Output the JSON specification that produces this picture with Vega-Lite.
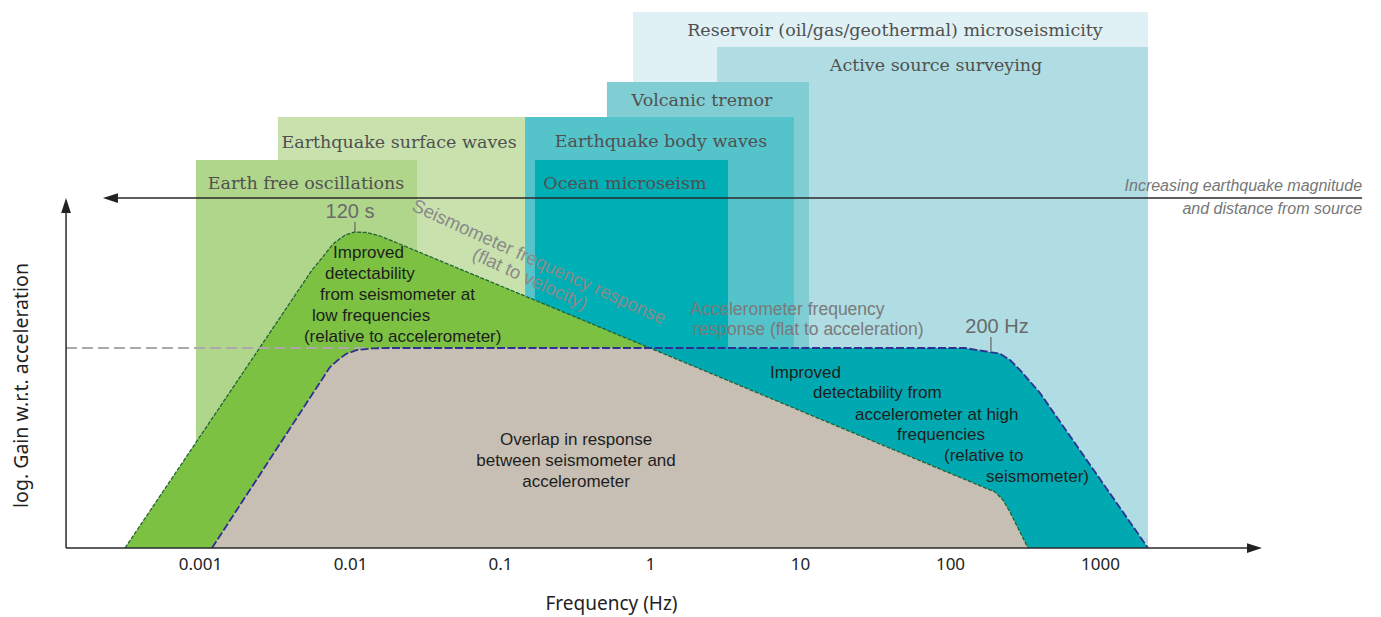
{
  "$schema": "https://vega.github.io/schema/vega-lite/v6.json",
  "width": 1299,
  "height": 548,
  "autosize": {"type": "none"},
  "padding": {"left": 66, "top": 0, "right": 16, "bottom": 69},
  "background": "white",
  "config": {
    "view": {"stroke": null},
    "axisX": {"domain": false, "ticks": false, "grid": false, "labelFont": "Noto Sans", "labelFontSize": 17, "labelColor": "#222", "labelPadding": 8, "titleFont": "Noto Sans", "titleFontSize": 19, "titleFontWeight": "normal", "titleColor": "#222", "titleX": 545, "titleY": 55, "titleBaseline": "middle"},
    "axisY": {"domain": false, "ticks": false, "grid": false, "labels": false, "titleFont": "Noto Sans", "titleFontSize": 19.5, "titleFontWeight": "normal", "titleColor": "#222", "titleX": -45, "titleY": 385, "titleAngle": 270, "titleAlign": "center", "titleBaseline": "middle"}
  },
  "datasets": {
    "bands": [
      {"band": "Reservoir (oil/gas/geothermal) microseismicity", "f": -0.113, "f2": 3.32, "g": 2.68, "lf": 1.633, "lg": 2.585},
      {"band": "Active source surveying", "f": 0.447, "f2": 3.32, "g": 2.505, "lf": 1.907, "lg": 2.41},
      {"band": "Volcanic tremor", "f": -0.287, "f2": 1.06, "g": 2.33, "lf": 0.347, "lg": 2.235},
      {"band": "Earthquake surface waves", "f": -2.48, "f2": -0.833, "g": 2.155, "lf": -1.673, "lg": 2.025},
      {"band": "Earthquake body waves", "f": -0.833, "f2": 0.96, "g": 2.155, "lf": 0.073, "lg": 2.03},
      {"band": "Earth free oscillations", "f": -3.027, "f2": -1.553, "g": 1.94, "lf": -2.293, "lg": 1.82},
      {"band": "Ocean microseism", "f": -0.767, "f2": 0.52, "g": 1.94, "lf": -0.167, "lg": 1.82}
    ],
    "acc": [
      {"f": -2.92, "g": 0}, {"f": -2.133, "g": 0.905}, {"f": -2.08, "g": 0.94}, {"f": -2.027, "g": 0.97},
      {"f": -1.953, "g": 0.99}, {"f": -1.853, "g": 0.998}, {"f": -1.733, "g": 1.0}, {"f": 2.1, "g": 1.0},
      {"f": 2.22, "g": 0.985}, {"f": 2.333, "g": 0.972}, {"f": 2.4, "g": 0.94}, {"f": 2.467, "g": 0.89},
      {"f": 2.6, "g": 0.775}, {"f": 3.32, "g": 0}
    ],
    "seis": [
      {"f": -3.5, "g": 0}, {"f": -2.253, "g": 1.39}, {"f": -2.187, "g": 1.45}, {"f": -2.113, "g": 1.52},
      {"f": -2.033, "g": 1.565}, {"f": -1.967, "g": 1.58}, {"f": -1.887, "g": 1.5775}, {"f": -1.8, "g": 1.56},
      {"f": -1.653, "g": 1.515}, {"f": 0, "g": 1.0}, {"f": 2.3, "g": 0.28}, {"f": 2.353, "g": 0.24},
      {"f": 2.4, "g": 0.18}, {"f": 2.52, "g": 0}
    ],
    "overlap": [
      {"f": -2.92, "g": 0}, {"f": -2.133, "g": 0.905}, {"f": -2.08, "g": 0.94}, {"f": -2.027, "g": 0.97},
      {"f": -1.953, "g": 0.99}, {"f": -1.853, "g": 0.998}, {"f": -1.733, "g": 1.0}, {"f": 0, "g": 1.0},
      {"f": 2.3, "g": 0.28}, {"f": 2.353, "g": 0.24}, {"f": 2.4, "g": 0.18}, {"f": 2.52, "g": 0}
    ],
    "level": [{"f": -3.893, "g": 1.0}, {"f": -1.9, "g": 1.0}],
    "rules": [
      {"name": "yaxis", "f": -3.893, "f2": -3.893, "g": 0, "g2": 1.68},
      {"name": "xaxis", "f": -3.893, "f2": 3.99, "g": 0, "g2": 0},
      {"name": "magnitude", "f": -3.55, "f2": 4.747, "g": 1.75, "g2": 1.75}
    ],
    "ticks": [
      {"f": -1.967, "g": 1.58, "g2": 1.63},
      {"f": 2.273, "g": 0.985, "g2": 1.055}
    ],
    "arrows": [
      {"dir": "left", "f": -3.597, "g": 1.75},
      {"dir": "up", "f": -3.893, "g": 1.7125},
      {"dir": "right", "f": 4.03, "g": 0}
    ],
    "notes": [
      {"kind": "seislow", "text": "Improved", "f": -2.113, "g": 1.475},
      {"kind": "seislow", "text": "detectability", "f": -2.167, "g": 1.37},
      {"kind": "seislow", "text": "from seismometer at", "f": -2.2, "g": 1.265},
      {"kind": "seislow", "text": "low frequencies", "f": -2.253, "g": 1.16},
      {"kind": "seislow", "text": "(relative to accelerometer)", "f": -2.307, "g": 1.055},
      {"kind": "acchigh", "text": "Improved", "f": 0.8, "g": 0.875},
      {"kind": "acchigh", "text": "detectability from", "f": 1.087, "g": 0.775},
      {"kind": "acchigh", "text": "accelerometer at high", "f": 1.367, "g": 0.665},
      {"kind": "acchigh", "text": "frequencies", "f": 1.647, "g": 0.565},
      {"kind": "acchigh", "text": "(relative to", "f": 1.96, "g": 0.46},
      {"kind": "acchigh", "text": "seismometer)", "f": 2.24, "g": 0.355},
      {"kind": "overlap", "text": "Overlap in response", "f": -0.493, "g": 0.54},
      {"kind": "overlap", "text": "between seismometer and", "f": -0.493, "g": 0.435},
      {"kind": "overlap", "text": "accelerometer", "f": -0.493, "g": 0.33},
      {"kind": "seislabel", "text": "Seismometer frequency response", "f": -0.74, "g": 1.43},
      {"kind": "seislabel", "text": "(flat to velocity)", "f": -0.8, "g": 1.345},
      {"kind": "acclabel", "text": "Accelerometer frequency", "f": 0.267, "g": 1.19},
      {"kind": "acclabel", "text": "response (flat to acceleration)", "f": 0.287, "g": 1.09},
      {"kind": "corner", "text": "120 s", "f": -2.0, "g": 1.68},
      {"kind": "corner", "text": "200 Hz", "f": 2.313, "g": 1.105},
      {"kind": "magnitude", "text": "Increasing earthquake magnitude", "f": 4.747, "g": 1.81},
      {"kind": "magnitude", "text": "and distance from source", "f": 4.747, "g": 1.695}
    ]
  },
  "layer": [
    {
      "data": {"name": "bands"},
      "mark": {"type": "rect"},
      "encoding": {
        "x": {"field": "f", "type": "quantitative", "scale": {"domain": [-3.8933, 4.7667], "nice": false, "zero": false}, "title": "Frequency (Hz)", "axis": {"values": [-3, -2, -1, 0, 1, 2, 3], "labelExpr": "datum.value == -3 ? '0.001' : datum.value == -2 ? '0.01' : datum.value == -1 ? '0.1' : format(pow(10, datum.value), 'd')"}},
        "x2": {"field": "f2"},
        "y": {"field": "g", "type": "quantitative", "scale": {"domain": [0, 2.74], "nice": false, "zero": false}, "title": "log. Gain w.r.t. acceleration"},
        "y2": {"datum": 0},
        "color": {"field": "band", "type": "nominal", "legend": null, "scale": {
          "domain": ["Reservoir (oil/gas/geothermal) microseismicity", "Active source surveying", "Volcanic tremor", "Earthquake surface waves", "Earthquake body waves", "Earth free oscillations", "Ocean microseism"],
          "range": ["#dff1f4", "#afdde3", "#80ced4", "#c9e2ad", "#55c3ca", "#b0d68b", "#00aeb5"]}}
      }
    },
    {
      "data": {"name": "bands"},
      "mark": {"type": "text", "font": "DejaVu Serif", "fontSize": 17.5, "color": "#505050", "align": "center", "baseline": "middle"},
      "encoding": {
        "x": {"field": "lf", "type": "quantitative", "scale": {"domain": [-3.8933, 4.7667], "nice": false, "zero": false}, "title": "Frequency (Hz)"},
        "y": {"field": "lg", "type": "quantitative", "scale": {"domain": [0, 2.74], "nice": false, "zero": false}, "title": "log. Gain w.r.t. acceleration"},
        "text": {"field": "band"}
      }
    },
    {
      "data": {"name": "acc"},
      "mark": {"type": "area", "color": "#00a9b1"},
      "encoding": {
        "x": {"field": "f", "type": "quantitative", "scale": {"domain": [-3.8933, 4.7667], "nice": false, "zero": false}, "title": "Frequency (Hz)"},
        "y": {"field": "g", "type": "quantitative", "scale": {"domain": [0, 2.74], "nice": false, "zero": false}, "title": "log. Gain w.r.t. acceleration"}
      }
    },
    {
      "data": {"name": "seis"},
      "mark": {"type": "area", "color": "#7cc142"},
      "encoding": {
        "x": {"field": "f", "type": "quantitative", "scale": {"domain": [-3.8933, 4.7667], "nice": false, "zero": false}, "title": "Frequency (Hz)"},
        "y": {"field": "g", "type": "quantitative", "scale": {"domain": [0, 2.74], "nice": false, "zero": false}, "title": "log. Gain w.r.t. acceleration"}
      }
    },
    {
      "data": {"name": "overlap"},
      "mark": {"type": "area", "color": "#c7beb4"},
      "encoding": {
        "x": {"field": "f", "type": "quantitative", "scale": {"domain": [-3.8933, 4.7667], "nice": false, "zero": false}, "title": "Frequency (Hz)"},
        "y": {"field": "g", "type": "quantitative", "scale": {"domain": [0, 2.74], "nice": false, "zero": false}, "title": "log. Gain w.r.t. acceleration"}
      }
    },
    {
      "data": {"name": "seis"},
      "mark": {"type": "line", "color": "#22643a", "strokeWidth": 1.3, "strokeDash": [4, 1.5]},
      "encoding": {
        "x": {"field": "f", "type": "quantitative", "scale": {"domain": [-3.8933, 4.7667], "nice": false, "zero": false}, "title": "Frequency (Hz)"},
        "y": {"field": "g", "type": "quantitative", "scale": {"domain": [0, 2.74], "nice": false, "zero": false}, "title": "log. Gain w.r.t. acceleration"}
      }
    },
    {
      "data": {"name": "level"},
      "mark": {"type": "line", "color": "#aaaaaa", "strokeWidth": 2, "strokeDash": [11, 5]},
      "encoding": {
        "x": {"field": "f", "type": "quantitative", "scale": {"domain": [-3.8933, 4.7667], "nice": false, "zero": false}, "title": "Frequency (Hz)"},
        "y": {"field": "g", "type": "quantitative", "scale": {"domain": [0, 2.74], "nice": false, "zero": false}, "title": "log. Gain w.r.t. acceleration"}
      }
    },
    {
      "data": {"name": "acc"},
      "mark": {"type": "line", "color": "#2e3192", "strokeWidth": 1.8, "strokeDash": [8, 2.5]},
      "encoding": {
        "x": {"field": "f", "type": "quantitative", "scale": {"domain": [-3.8933, 4.7667], "nice": false, "zero": false}, "title": "Frequency (Hz)"},
        "y": {"field": "g", "type": "quantitative", "scale": {"domain": [0, 2.74], "nice": false, "zero": false}, "title": "log. Gain w.r.t. acceleration"}
      }
    },
    {
      "data": {"name": "rules"},
      "mark": {"type": "rule", "color": "#2a2a2a", "strokeWidth": 1.5},
      "encoding": {
        "x": {"field": "f", "type": "quantitative", "scale": {"domain": [-3.8933, 4.7667], "nice": false, "zero": false}, "title": "Frequency (Hz)"},
        "x2": {"field": "f2"},
        "y": {"field": "g", "type": "quantitative", "scale": {"domain": [0, 2.74], "nice": false, "zero": false}, "title": "log. Gain w.r.t. acceleration"},
        "y2": {"field": "g2"}
      }
    },
    {
      "data": {"name": "ticks"},
      "mark": {"type": "rule", "color": "#666666", "strokeWidth": 1.2},
      "encoding": {
        "x": {"field": "f", "type": "quantitative", "scale": {"domain": [-3.8933, 4.7667], "nice": false, "zero": false}, "title": "Frequency (Hz)"},
        "y": {"field": "g", "type": "quantitative", "scale": {"domain": [0, 2.74], "nice": false, "zero": false}, "title": "log. Gain w.r.t. acceleration"},
        "y2": {"field": "g2"}
      }
    },
    {
      "data": {"name": "arrows"},
      "mark": {"type": "point", "filled": true, "opacity": 1, "color": "#222222", "size": 225},
      "encoding": {
        "x": {"field": "f", "type": "quantitative", "scale": {"domain": [-3.8933, 4.7667], "nice": false, "zero": false}, "title": "Frequency (Hz)"},
        "y": {"field": "g", "type": "quantitative", "scale": {"domain": [0, 2.74], "nice": false, "zero": false}, "title": "log. Gain w.r.t. acceleration"},
        "shape": {"field": "dir", "type": "nominal", "legend": null, "scale": {"domain": ["left", "up", "right"], "range": ["M-1,0L1,-0.65L1,0.65Z", "M0,-1L0.65,1L-0.65,1Z", "M1,0L-1,-0.65L-1,0.65Z"]}}
      }
    },
    {
      "data": {"name": "notes"},
      "transform": [{"filter": "datum.kind == 'seislow' || datum.kind == 'acchigh'"}],
      "mark": {"type": "text", "font": "Liberation Sans", "fontSize": 17, "color": "#1e1e1e", "align": "left", "baseline": "middle"},
      "encoding": {
        "x": {"field": "f", "type": "quantitative", "scale": {"domain": [-3.8933, 4.7667], "nice": false, "zero": false}, "title": "Frequency (Hz)"},
        "y": {"field": "g", "type": "quantitative", "scale": {"domain": [0, 2.74], "nice": false, "zero": false}, "title": "log. Gain w.r.t. acceleration"},
        "text": {"field": "text"}
      }
    },
    {
      "data": {"name": "notes"},
      "transform": [{"filter": "datum.kind == 'overlap'"}],
      "mark": {"type": "text", "font": "Liberation Sans", "fontSize": 17, "color": "#1e1e1e", "align": "center", "baseline": "middle"},
      "encoding": {
        "x": {"field": "f", "type": "quantitative", "scale": {"domain": [-3.8933, 4.7667], "nice": false, "zero": false}, "title": "Frequency (Hz)"},
        "y": {"field": "g", "type": "quantitative", "scale": {"domain": [0, 2.74], "nice": false, "zero": false}, "title": "log. Gain w.r.t. acceleration"},
        "text": {"field": "text"}
      }
    },
    {
      "data": {"name": "notes"},
      "transform": [{"filter": "datum.kind == 'seislabel'"}],
      "mark": {"type": "text", "font": "Liberation Sans", "fontSize": 18.5, "color": "#8a8a8a", "align": "center", "baseline": "middle", "angle": 24.5},
      "encoding": {
        "x": {"field": "f", "type": "quantitative", "scale": {"domain": [-3.8933, 4.7667], "nice": false, "zero": false}, "title": "Frequency (Hz)"},
        "y": {"field": "g", "type": "quantitative", "scale": {"domain": [0, 2.74], "nice": false, "zero": false}, "title": "log. Gain w.r.t. acceleration"},
        "text": {"field": "text"}
      }
    },
    {
      "data": {"name": "notes"},
      "transform": [{"filter": "datum.kind == 'acclabel'"}],
      "mark": {"type": "text", "font": "Liberation Sans", "fontSize": 17.5, "color": "#7a7a7a", "align": "left", "baseline": "middle"},
      "encoding": {
        "x": {"field": "f", "type": "quantitative", "scale": {"domain": [-3.8933, 4.7667], "nice": false, "zero": false}, "title": "Frequency (Hz)"},
        "y": {"field": "g", "type": "quantitative", "scale": {"domain": [0, 2.74], "nice": false, "zero": false}, "title": "log. Gain w.r.t. acceleration"},
        "text": {"field": "text"}
      }
    },
    {
      "data": {"name": "notes"},
      "transform": [{"filter": "datum.kind == 'corner'"}],
      "mark": {"type": "text", "font": "Liberation Sans", "fontSize": 20, "color": "#6a6a6a", "align": "center", "baseline": "middle"},
      "encoding": {
        "x": {"field": "f", "type": "quantitative", "scale": {"domain": [-3.8933, 4.7667], "nice": false, "zero": false}, "title": "Frequency (Hz)"},
        "y": {"field": "g", "type": "quantitative", "scale": {"domain": [0, 2.74], "nice": false, "zero": false}, "title": "log. Gain w.r.t. acceleration"},
        "text": {"field": "text"}
      }
    },
    {
      "data": {"name": "notes"},
      "transform": [{"filter": "datum.kind == 'magnitude'"}],
      "mark": {"type": "text", "font": "Liberation Sans", "fontSize": 16, "fontStyle": "italic", "color": "#777777", "align": "right", "baseline": "middle"},
      "encoding": {
        "x": {"field": "f", "type": "quantitative", "scale": {"domain": [-3.8933, 4.7667], "nice": false, "zero": false}, "title": "Frequency (Hz)"},
        "y": {"field": "g", "type": "quantitative", "scale": {"domain": [0, 2.74], "nice": false, "zero": false}, "title": "log. Gain w.r.t. acceleration"},
        "text": {"field": "text"}
      }
    }
  ]
}
